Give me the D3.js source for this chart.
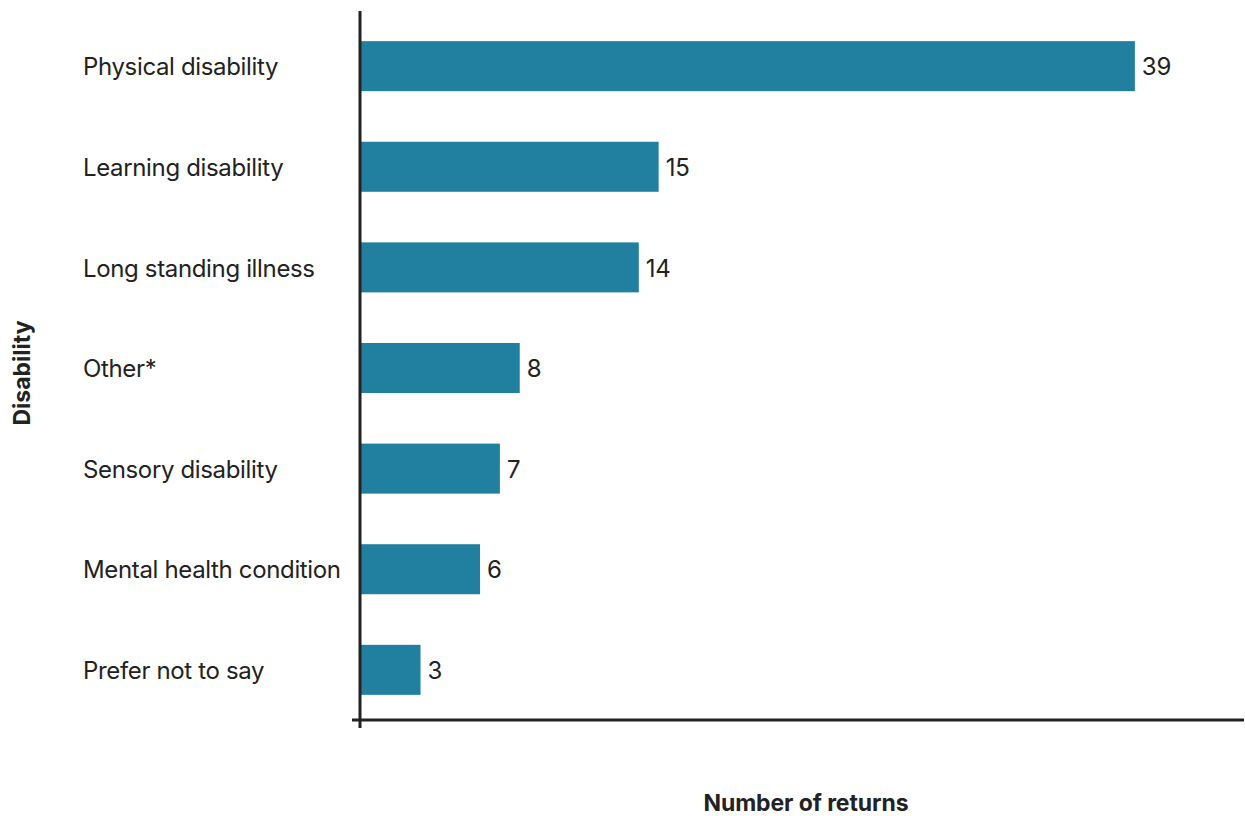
<!DOCTYPE html>
<html>
<head>
<meta charset="utf-8">
<script src="https://cdn.jsdelivr.net/npm/d3@7"></script>
<style>
  html, body { margin: 0; padding: 0; background: #fff; }
  svg text { font-family: Inter, "Liberation Sans", Arial, sans-serif; }
</style>
</head>
<body>
<svg id="chart" width="1245" height="816"></svg>
<script>
// Disability categories and number of returns
const categories = [
  "Physical disability",
  "Learning disability",
  "Long standing illness",
  "Other*",
  "Sensory disability",
  "Mental health condition",
  "Prefer not to say"
];
const returns = [39, 15, 14, 8, 7, 6, 3];
const xAxisTitle = "Number of returns";
const yAxisTitle = "Disability";

const data = categories.map((c, i) => ({ category: c, value: returns[i] }));

const svg = d3.select("#chart");
const barColor = "#217fa0";
const inkColor = "#222222";

const plotLeft = 360, plotRight = 1244, plotTop = 16, plotBottom = 720;

const x = d3.scaleLinear()
  .domain([0, 44.5])
  .range([plotLeft + 1, plotRight]);

const y = d3.scaleBand()
  .domain(categories)
  .range([plotTop, plotBottom])
  .paddingInner(0.503)
  .paddingOuter(0.25);

// Bars
svg.append("g")
  .selectAll("rect")
  .data(data)
  .join("rect")
  .attr("x", x(0))
  .attr("y", d => y(d.category))
  .attr("width", d => x(d.value) - x(0))
  .attr("height", y.bandwidth())
  .attr("fill", barColor);

// Value labels at bar ends
svg.append("g")
  .selectAll("text")
  .data(data)
  .join("text")
  .attr("x", d => x(d.value) + 7)
  .attr("y", d => y(d.category) + y.bandwidth() / 2)
  .attr("dy", "0.38em")
  .attr("font-size", 24)
  .attr("letter-spacing", "-0.2")
  .attr("fill", inkColor)
  .text(d => d.value);

// Category labels
svg.append("g")
  .selectAll("text")
  .data(data)
  .join("text")
  .attr("x", 83)
  .attr("y", d => y(d.category) + y.bandwidth() / 2)
  .attr("dy", "0.38em")
  .attr("font-size", 24)
  .attr("letter-spacing", "-0.35")
  .attr("fill", inkColor)
  .text(d => d.category);

// Axis lines
const xAxis = d3.axisBottom(x).tickValues([]).tickSizeOuter(0);
const gx = svg.append("g")
  .attr("transform", `translate(0,${plotBottom})`)
  .call(xAxis);
gx.select(".domain")
  .attr("d", `M${plotLeft - 8},0H${plotRight}`)
  .attr("stroke", inkColor)
  .attr("stroke-width", 3);

const yAxis = d3.axisLeft(y).tickValues([]).tickSizeOuter(0);
const gy = svg.append("g")
  .attr("transform", `translate(${plotLeft},0)`)
  .call(yAxis);
gy.select(".domain")
  .attr("d", `M0,11V${plotBottom + 8}`)
  .attr("stroke", inkColor)
  .attr("stroke-width", 3);

// Axis titles
svg.append("text")
  .attr("x", 806)
  .attr("y", 811)
  .attr("text-anchor", "middle")
  .attr("font-size", 23)
  .attr("font-weight", "bold")
  .attr("letter-spacing", "-0.1")
  .attr("fill", inkColor)
  .text(xAxisTitle);

svg.append("text")
  .attr("transform", "translate(22,373) rotate(-90)")
  .attr("dy", "0.36em")
  .attr("text-anchor", "middle")
  .attr("font-size", 23)
  .attr("font-weight", "bold")
  .attr("letter-spacing", "0")
  .attr("fill", inkColor)
  .text(yAxisTitle);
</script>
</body>
</html>
